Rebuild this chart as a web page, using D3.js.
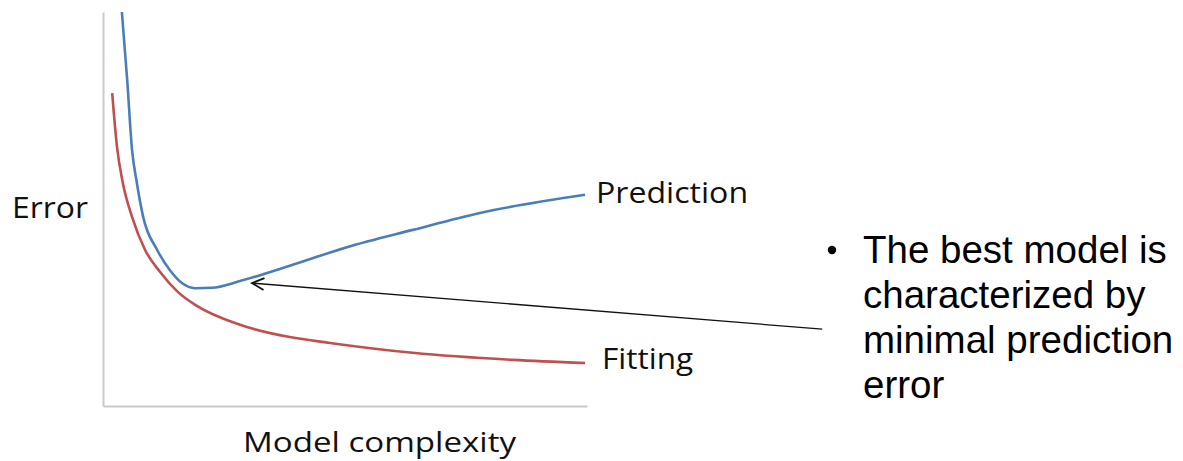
<!DOCTYPE html>
<html>
<head>
<meta charset="utf-8">
<script src="https://cdn.jsdelivr.net/npm/d3@7"></script>
<style>
  html, body { margin: 0; padding: 0; background: #fff; }
  svg { display: block; }
</style>
</head>
<body>
<svg id="chart" width="1183" height="461"></svg>
<script>
// Model complexity (0-100) vs Error (0-100)
const predictionX = [3.9, 5.0, 6.0, 7.0, 8.3, 11.2, 13.8, 16.3, 19.0, 22.5, 28.3, 38.6, 50.4, 64.0, 77.9, 99.6];
const predictionY = [100, 82.7, 65.0, 56.6, 48.0, 39.6, 34.5, 31.2, 29.9, 30.0, 31.7, 35.6, 40.3, 44.7, 49.0, 53.6];
const fittingX = [1.9, 2.9, 4.1, 6.0, 8.7, 11.8, 15.5, 19.4, 28.3, 38.6, 46.9, 64.0, 84.7, 99.6];
const fittingY = [79.4, 65.7, 56.6, 48.0, 39.6, 34.0, 28.9, 25.4, 20.6, 17.5, 16.0, 13.5, 11.7, 10.9];
const seriesNames = ["Prediction", "Fitting"];
const xAxisTitle = "Model complexity";
const yAxisTitle = "Error";
const bulletLines = ["The best model is", "characterized by", "minimal prediction", "error"];
// annotation arrow: tail (outside plot, near the bullet) and head (minimum region of Prediction)
const arrowTail = [148.6, 19.5];
const arrowHead = [30.8, 31.2];

const svg = d3.select("#chart");
const x = d3.scaleLinear().domain([0, 100]).range([103, 587]);
const y = d3.scaleLinear().domain([0, 100]).range([406, 12]);

// axes (plain lines, no ticks)
const axisColor = "#c9c9c9";
svg.append("g").attr("transform", `translate(0,${y(0)})`)
  .call(d3.axisBottom(x).tickValues([]).tickSizeOuter(0))
  .call(g => g.select(".domain").attr("stroke", axisColor).attr("stroke-width", 2));
svg.append("g").attr("transform", `translate(${x(0)},0)`)
  .call(d3.axisLeft(y).tickValues([]).tickSizeOuter(0))
  .call(g => g.select(".domain").attr("stroke", axisColor).attr("stroke-width", 2));

const line = d3.line().x(d => x(d[0])).y(d => y(d[1])).curve(d3.curveMonotoneX);

const pred = predictionX.map((v, i) => [v, predictionY[i]]);
const fit = fittingX.map((v, i) => [v, fittingY[i]]);

svg.append("path").datum(fit).attr("d", line)
  .attr("fill", "none").attr("stroke", "#c0504d").attr("stroke-width", 2.6);
svg.append("path").datum(pred).attr("d", line)
  .attr("fill", "none").attr("stroke", "#4a7ebb").attr("stroke-width", 2.6);

// arrow
svg.append("defs").append("marker")
  .attr("id", "arr").attr("viewBox", "-14 -8 16 16")
  .attr("refX", 0).attr("refY", 0)
  .attr("markerWidth", 16).attr("markerHeight", 16)
  .attr("markerUnits", "userSpaceOnUse").attr("orient", "auto")
  .append("path").attr("d", "M-12,-6 L0,0 L-12,6")
  .attr("fill", "none").attr("stroke", "#111").attr("stroke-width", 1.8);
svg.append("line")
  .attr("x1", x(arrowTail[0])).attr("y1", y(arrowTail[1]))
  .attr("x2", x(arrowHead[0])).attr("y2", y(arrowHead[1]))
  .attr("stroke", "#111").attr("stroke-width", 1.3)
  .attr("marker-end", "url(#arr)");

// labels
const lblFont = "'Open Sans', sans-serif";
function label(txt, lx, ly, len, size) {
  svg.append("text").attr("x", lx).attr("y", ly)
    .attr("font-family", lblFont).attr("font-size", size).attr("fill", "#111")
    .attr("textLength", len).attr("lengthAdjust", "spacingAndGlyphs")
    .text(txt);
}
label(seriesNames[0], x(predictionX[predictionX.length - 1]) + 11, 203, 152, 29);
label(seriesNames[1], x(fittingX[fittingX.length - 1]) + 17, 369, 91, 29);
label(yAxisTitle, 12, 218, 76, 29);
label(xAxisTitle, 243, 452, 273, 28);

// bullet text
svg.append("circle").attr("cx", 832).attr("cy", 250).attr("r", 4.2).attr("fill", "#000");
svg.append("g").selectAll("text").data(bulletLines).join("text")
  .attr("x", 863).attr("y", (d, i) => 263 + i * 45)
  .attr("font-family", "'Liberation Sans', Arial, sans-serif")
  .attr("font-size", 38.5).attr("fill", "#000")
  .text(d => d);
</script>
</body>
</html>
